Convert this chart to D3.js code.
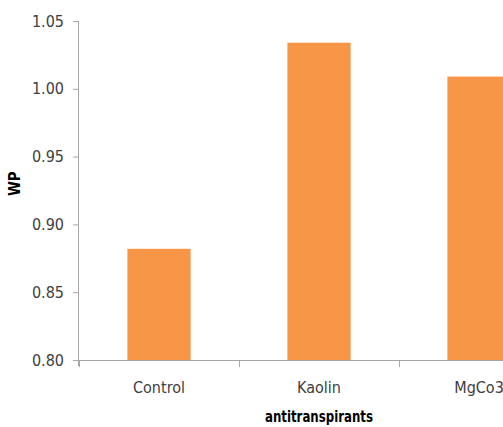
<!DOCTYPE html>
<html>
<head>
<meta charset="utf-8">
<script src="https://cdn.jsdelivr.net/npm/d3@7"></script>
<style>
  html, body { margin: 0; padding: 0; background: #fff; }
  svg { display: block; }
</style>
</head>
<body>
<svg id="chart" width="503" height="427"></svg>
<script>
// Water productivity by antitranspirant treatment
const categories = ["Control", "Kaolin", "MgCo3"];
const wpValues = [0.882, 1.034, 1.009];
const yTicks = [0.80, 0.85, 0.90, 0.95, 1.00, 1.05];

const svg = d3.select("#chart");
const font = '"Liberation Sans Narrow", "DejaVu Sans Condensed", "Liberation Sans", sans-serif';

const plotLeft = 79, plotRight = 559, plotTop = 21, plotBottom = 360;

const x = d3.scaleBand().domain(categories).range([plotLeft, plotRight]).paddingInner(0).paddingOuter(0);
const y = d3.scaleLinear().domain([0.80, 1.05]).range([plotBottom, plotTop]);

// bars
const barW = x.bandwidth() * 0.395;
svg.append("g").selectAll("rect").data(categories).join("rect")
  .attr("x", (d) => x(d) + (x.bandwidth() - barW) / 2)
  .attr("y", (d, i) => y(wpValues[i]))
  .attr("width", barW)
  .attr("height", (d, i) => plotBottom - y(wpValues[i]))
  .attr("fill", "#F79646");

// y axis
const yAxis = svg.append("g").attr("transform", `translate(${plotLeft},0)`)
  .call(d3.axisLeft(y).tickValues(yTicks).tickFormat(d3.format(".2f")).tickSize(6).tickPadding(9));
yAxis.select(".domain").attr("stroke", "#A6A6A6").attr("d", `M-0.5,${plotTop}V${plotBottom + 6}`);
yAxis.selectAll(".tick line").attr("stroke", "#A6A6A6");
yAxis.selectAll(".tick text").attr("font-size", 16).attr("fill", "#404040").attr("font-family", font);

// x axis with boundary tick marks between categories
const xAxisG = svg.append("g").attr("transform", `translate(0,${plotBottom})`);
xAxisG.append("line").attr("x1", plotLeft - 6).attr("x2", plotRight).attr("y1", 0.5).attr("y2", 0.5).attr("stroke", "#A6A6A6");
xAxisG.selectAll("line.b").data(categories).join("line").attr("class", "b")
  .attr("x1", (d) => x(d) + 0.5).attr("x2", (d) => x(d) + 0.5)
  .attr("y1", 0).attr("y2", 7).attr("stroke", "#A6A6A6");
xAxisG.selectAll("text").data(categories).join("text")
  .attr("x", (d) => x(d) + x.bandwidth() / 2)
  .attr("y", 33)
  .attr("text-anchor", "middle")
  .attr("font-family", font).attr("font-size", 16).attr("fill", "#404040")
  .text((d) => d);

// axis titles
svg.append("text")
  .attr("x", (plotLeft + plotRight) / 2).attr("y", 422)
  .attr("text-anchor", "middle")
  .attr("font-family", font).attr("font-size", 16).attr("font-weight", "bold").attr("fill", "#000")
  .attr("textLength", 108).attr("lengthAdjust", "spacingAndGlyphs")
  .text("antitranspirants");

svg.append("text")
  .attr("transform", `translate(20,${y(0.93)}) rotate(-90)`)
  .attr("text-anchor", "middle")
  .attr("font-family", font).attr("font-size", 15).attr("font-weight", "bold").attr("fill", "#000")
  .text("WP");
</script>
</body>
</html>
